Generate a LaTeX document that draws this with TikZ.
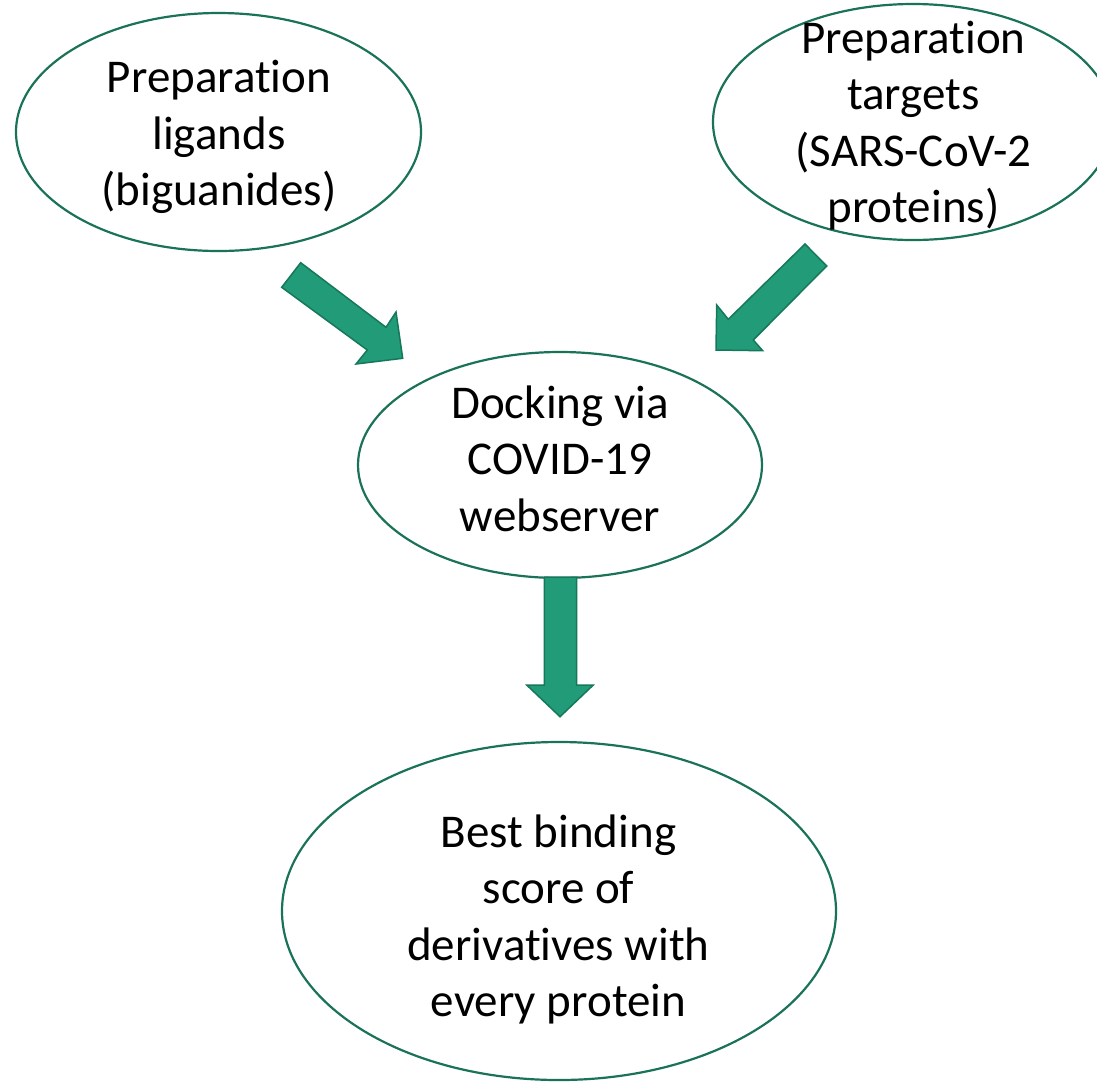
\documentclass[tikz,border=0pt]{standalone}
\usepackage{fontspec}
\setmainfont{Carlito}[RawFeature={-liga}]
\usetikzlibrary{shapes.geometric}
\definecolor{ovalc}{RGB}{26,115,88}
\definecolor{arrfill}{RGB}{33,155,120}
\definecolor{arrline}{RGB}{22,120,90}
\begin{document}
\begin{tikzpicture}[x=1pt,y=-1pt,
  oval/.style={ellipse, draw=ovalc, line width=2.2pt, fill=white, inner sep=0pt},
  lbl/.style={font=\fontsize{47}{56.5}\selectfont, align=center, inner sep=0pt, anchor=base},
  blk/.style={fill=arrfill, draw=arrline, line width=1.5pt, line join=miter}]
\useasboundingbox (0,0) rectangle (1097,1088);
\fill[white] (0,0) rectangle (1097,1088);
% ovals
\node[oval, minimum width=405pt, minimum height=238pt] (lig) at (218.5,132) {};
\node[oval, minimum width=400pt, minimum height=236pt] (tar) at (913,122) {};
\node[oval, minimum width=404pt, minimum height=226pt] (dock) at (560,465) {};
\node[oval, minimum width=554pt, minimum height=338pt] (best) at (559,911) {};
% labels (anchored at the baseline of the last line)
\node[lbl] (ligT) at (219,205.7) {Preparation\\ligands\\(biguanides)};
\node[lbl] (tarT) at (913.5,222.5) {Preparation\\targets\\(SARS-CoV-2\\proteins)};
\node[lbl] (dockT) at (560,531) {Docking via\\COVID-19\\webserver};
\node[lbl] (bestT) at (558.5,1016.5) {Best binding\\score of\\derivatives with\\every protein};
% block arrows
\coordinate (a1) at (300.7,262.7);
\coordinate (a2) at (281.7,287.3);
\coordinate (a3) at (367.3,350);
\coordinate (a4) at (356,364);
\coordinate (a5) at (402.7,358.3);
\coordinate (a6) at (396,312);
\coordinate (a7) at (386,327.3);
\draw[blk] (a1) -- (a2) -- (a3) -- (a4) -- (a5) -- (a6) -- (a7) -- cycle;
\coordinate (b1) at (805,244);
\coordinate (b2) at (826.7,266);
\coordinate (b3) at (753.3,340);
\coordinate (b4) at (762.7,350.7);
\coordinate (b5) at (716,350);
\coordinate (b6) at (716.7,305);
\coordinate (b7) at (728.3,319.3);
\draw[blk] (b1) -- (b2) -- (b3) -- (b4) -- (b5) -- (b6) -- (b7) -- cycle;
\coordinate (c1) at (544.3,577);
\coordinate (c2) at (576.7,577);
\coordinate (c3) at (576.7,685);
\coordinate (c4) at (593.3,685);
\coordinate (c5) at (560,716.7);
\coordinate (c6) at (526.7,685);
\coordinate (c7) at (544.3,685);
\draw[blk] (c1) -- (c2) -- (c3) -- (c4) -- (c5) -- (c6) -- (c7) -- cycle;
\end{tikzpicture}
\end{document}
